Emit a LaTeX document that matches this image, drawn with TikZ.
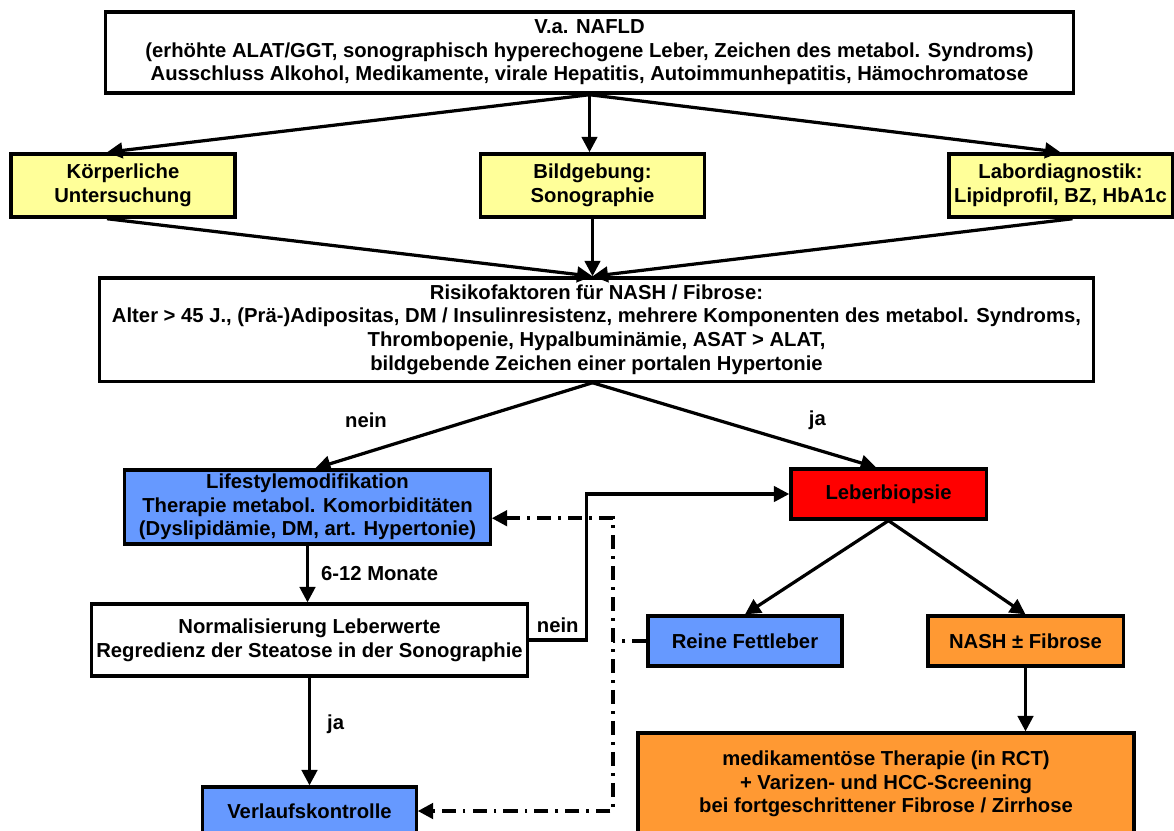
\documentclass[tikz,border=0pt]{standalone}
\usepackage{fontspec}
\setmainfont{Liberation Sans}
\usetikzlibrary{arrows.meta}
\definecolor{lightyellow}{RGB}{255,255,153}
\definecolor{skyblue}{RGB}{102,153,255}
\definecolor{nashorange}{RGB}{255,153,51}
\tikzstyle{box} = [rectangle, draw, line width=2.3pt, inner sep=0pt, align=center, fill=white, font=\bfseries\fontsize{14.4}{16.8}\selectfont]
\tikzstyle{exam} = [box, fill=lightyellow, minimum width=5.6cm, minimum height=1.58cm]
\tikzstyle{therapy} = [box, fill=skyblue]
\tikzstyle{biopsy} = [box, fill=red]
\tikzstyle{finding} = [box, fill=nashorange]
\tikzstyle{answer} = [inner sep=0pt, font=\bfseries\fontsize{14.4}{16}\selectfont]
\tikzstyle{arrow} = [line width=2.3pt, -{Triangle[length=11pt,width=11pt]}]
\tikzstyle{backline} = [line width=2.6pt, dash pattern=on 10pt off 5pt on 2pt off 5pt]
\tikzstyle{backarrow} = [backline, {Triangle[length=11pt,width=11pt]}-{Triangle[length=11pt,width=11pt]}]

\begin{document}
\begin{tikzpicture}[x=0.025cm, y=-0.025cm]
            \clip (0,0) rectangle (1174,830);
            \node [box, minimum width=24.18cm, minimum height=2.03cm] at (589.5,52.5) (nafld) {V.a. NAFLD\\(erhöhte ALAT/GGT, sonographisch hyperechogene Leber, Zeichen des metabol. Syndroms)\\Ausschluss Alkohol, Medikamente, virale Hepatitis, Autoimmunhepatitis, Hämochromatose};
            \node [exam] at (123,185.5) (koerper) {Körperliche\\Untersuchung};
            \node [exam] at (592.5,185.5) (bild) {Bildgebung:\\Sonographie};
            \node [exam, minimum width=5.58cm] at (1060.5,185.5) (labor) {Labordiagnostik:\\Lipidprofil, BZ, HbA1c};
            \node [box, minimum width=24.83cm, minimum height=2.58cm] at (596.5,329.5) (risiko) {Risikofaktoren für NASH / Fibrose:\\Alter > 45 J., (Prä-)Adipositas, DM / Insulinresistenz, mehrere Komponenten des metabol. Syndroms,\\Thrombopenie, Hypalbuminämie, ASAT > ALAT,\\bildgebende Zeichen einer portalen Hypertonie};
            \node [therapy, minimum width=9.13cm, minimum height=1.85cm] at (307.5,507) (lifestyle) {Lifestylemodifikation\\Therapie metabol. Komorbiditäten\\(Dyslipidämie, DM, art. Hypertonie)};
            \node [biopsy, minimum width=4.88cm, minimum height=1.25cm] at (888.5,494) (biopsie) {Leberbiopsie};
            \node [box, minimum width=10.88cm, minimum height=1.8cm] at (309.5,640) (normal) {Normalisierung Leberwerte\\Regredienz der Steatose in der Sonographie};
            \node [therapy, minimum width=4.85cm, minimum height=1.25cm] at (745,641) (fett) {Reine Fettleber};
            \node [finding, minimum width=4.88cm, minimum height=1.25cm] at (1025.5,641) (nash) {NASH ± Fibrose};
            \node [finding, minimum width=12.4cm, minimum height=2.55cm] at (886,784) (medik) {medikamentöse Therapie (in RCT)\\+ Varizen- und HCC-Screening\\bei fortgeschrittener Fibrose / Zirrhose};
            \node [therapy, minimum width=5.33cm, minimum height=1.2cm] at (309.5,811) (verlauf) {Verlaufskontrolle};
            \coordinate (fork) at (613,641);

            \draw [arrow] (nafld.south) -- ([xshift=-0.4cm]koerper.north);
            \draw [arrow] (nafld.south) -- (nafld.south |- bild.north);
            \draw [arrow] (nafld.south) -- (labor.north);
            \draw [arrow] ([xshift=-0.4cm]koerper.south) -- (risiko.north -| bild.south);
            \draw [arrow] (bild.south) -- (risiko.north -| bild.south);
            \draw [arrow] ([xshift=0.3cm]labor.south) -- (risiko.north -| bild.south);
            \draw [arrow] (risiko.south -| bild.south) -- node[answer, pos=0.44, left=2.05cm] {nein} ([xshift=0.19cm]lifestyle.north);
            \draw [arrow] (risiko.south -| bild.south) -- node[answer, pos=0.44, right=2.25cm] {ja} ([xshift=-0.31cm]biopsie.north);
            \draw [arrow] (lifestyle.south) -- node[answer, right=0.3cm] {6-12 Monate} (lifestyle.south |- normal.north);
            \draw [arrow] (normal.south) -- node[answer, pos=0.43, right=0.4cm] {ja} (normal.south |- verlauf.north);
            \draw [arrow] (normal.east) -- node[answer, above=0.15cm] {nein} ++(58,0) |- (biopsie.west);
            \draw [arrow] (biopsie.south) -- (fett.north);
            \draw [arrow] (biopsie.south) -- (nash.north);
            \draw [arrow] (nash.south) -- (nash.south |- medik.north);
            \draw [backarrow] ([yshift=-0.28cm]lifestyle.east) -| (fork) |- (verlauf.east);
            \draw [backline] (fett.west) -- (fork);
\end{tikzpicture}
\end{document}
